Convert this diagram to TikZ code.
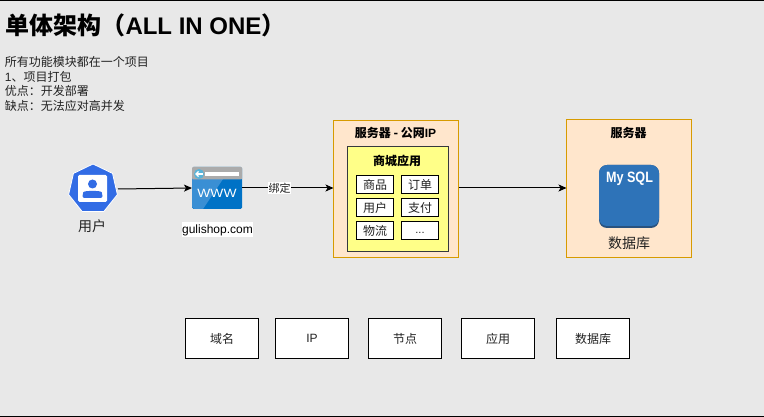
\documentclass[tikz,border=0pt]{standalone}
\usepackage{fontspec}
\setmainfont{Liberation Sans}
\newfontfamily\cjk{Noto Sans CJK SC}
\usetikzlibrary{shapes.geometric,arrows.meta}
\definecolor{bgc}{HTML}{E8E8E8}
\definecolor{orangefill}{HTML}{FFE6CC}
\definecolor{orangeline}{HTML}{D79B00}
\definecolor{yellowfill}{HTML}{FFFF88}
\definecolor{innerline}{HTML}{36393D}
\definecolor{userblue}{HTML}{326CE5}
\definecolor{wwwblue}{HTML}{0072C6}
\definecolor{wwwlight}{HTML}{3A8FD4}
\definecolor{wwwgrey}{HTML}{ABABAB}
\definecolor{wwwcyan}{HTML}{59B4D9}
\definecolor{sqlblue}{HTML}{2E73B8}
\definecolor{sqldark}{HTML}{28527F}
\definecolor{txt}{HTML}{222222}
\tikzset{
  x=1pt,y=-1pt,
  every node/.style={inner sep=0pt,outer sep=0pt,text=txt},
  server/.style={draw=orangeline,fill=orangefill,line width=1pt,minimum width=125pt,minimum height=137.5pt},
  appbox/.style={draw=innerline,fill=yellowfill,line width=1pt,minimum width=101pt,minimum height=105pt},
  modbox/.style={draw=black,fill=white,line width=1pt,minimum width=37pt,minimum height=18pt,font=\cjk\fontsize{12}{14}\selectfont},
  legendbox/.style={draw=black,fill=white,line width=1pt,minimum width=73.5pt,minimum height=40pt,font=\cjk\fontsize{12}{14}\selectfont},
  conn/.style={draw=black,line width=1pt,-{Stealth[length=8pt,width=7pt,inset=2pt]}},
  heading/.style={font=\cjk\bfseries\fontsize{12}{14}\selectfont,text=black},
}
\begin{document}
\begin{tikzpicture}
\useasboundingbox (0,0) rectangle (764,417);
\fill[bgc] (0,0) rectangle (764,417);
\draw[black,line width=1pt] (0,0.5) -- (764,0.5);
\draw[black,line width=1pt] (0,416.5) -- (764,416.5);

\node[anchor=west,text=black] (title) at (5.5,25) {\cjk\bfseries\fontsize{24}{28}\selectfont 单体架构（{\rmfamily\bfseries ALL IN ONE}）};
\node[anchor=north west,align=left,font=\cjk\fontsize{12}{14.5}\selectfont] (desc) at (5,56.5) {所有功能模块都在一个项目\\{\rmfamily 1}、项目打包\\优点：开发部署\\缺点：无法应对高并发};

% user
\node[regular polygon,regular polygon sides=7,fill=userblue,draw=white,line width=0.8pt,minimum size=50pt] (user) at (93,189) {};
\fill[white,rounded corners=1.5pt] (78,175) rectangle (107,202);
\fill[userblue] (92.5,184) circle (4.5);
\fill[userblue,rounded corners=2pt] (82.5,198) -- (82.5,194) .. controls (84,190.5) and (101,190.5) .. (102.5,194) -- (102.5,198) -- cycle;
\node[font=\cjk\fontsize{14}{16}\selectfont] (userlabel) at (92,226.5) {用户};

% www
\node[fill=wwwblue,rounded corners=1.5pt,minimum width=50pt,minimum height=42pt] (www) at (217,188) {};
\fill[wwwlight] (192,179) -- (223,179) -- (203,209) -- (194,209) -- (192,207) -- cycle;
\fill[wwwgrey,rounded corners=1pt] (192,179.5) -- (192,167) -- (242,167) -- (242,179.5) -- cycle;
\fill[wwwcyan] (199,174) circle (5);
\draw[white,line width=1.2pt] (196,174) -- (202.5,174);
\draw[white,line width=1.2pt] (198.5,171.5) -- (196,174) -- (198.5,176.5);
\fill[white] (205,172) rectangle (239,176);
\node[font=\fontsize{12}{14}\selectfont,text=white,xscale=1.15] (wwwtext) at (217,193.5) {WWW};
\node[fill=white,font=\fontsize{12}{14}\selectfont,text=black,minimum width=71pt,minimum height=15pt] (domain) at (217.5,230) {gulishop.com};

% server
\node[server] (srv) at (396,189) {};
\node[heading] (srvtitle) at (395.5,133) {服务器 - 公网{\rmfamily\bfseries IP}};
\node[appbox] (app) at (397.5,199.5) {};
\node[font=\cjk\bfseries\fontsize{12}{14}\selectfont,text=black] (apptitle) at (397,161) {商城应用};
\node[modbox] (m1) at (375,185) {商品};
\node[modbox] (m2) at (420,185) {订单};
\node[modbox] (m3) at (375,208) {用户};
\node[modbox] (m4) at (420,208) {支付};
\node[modbox] (m5) at (375,231) {物流};
\node[modbox,font=\fontsize{11}{14}\selectfont,text height=9pt,text depth=3pt] (m6) at (420,231) {...};

% db server
\node[server] (db) at (629,188.5) {};
\node[heading] (dbtitle) at (628.5,133) {服务器};
\node[fill=sqldark,rounded corners=8pt,minimum width=60pt,minimum height=63pt] (mysql) at (629,196.5) {};
\fill[sqlblue,rounded corners=8pt] (599,165) rectangle (659,226);
\node[font=\bfseries\fontsize{15}{17}\selectfont,text=white,xscale=0.84] (mysqltext) at (629.5,178.5) {My SQL};
\node[font=\cjk\fontsize{14}{16}\selectfont] (dblabel) at (629,243) {数据库};

% connectors
\draw[conn] (user.center -| 118,188) -- (www.west);
\draw[conn] (www.east) -- node[pos=0.41,fill=white,font=\cjk\fontsize{11}{13}\selectfont,inner sep=0.5pt] (bind) {绑定} (srv.west |- www.east);
\draw[conn] (srv.east |- www.east) -- (db.west |- www.east);

% legend
\node[legendbox] (l1) at (222,338.5) {域名};
\node[legendbox,font=\fontsize{12}{14}\selectfont] (l2) at (312,338.5) {IP};
\node[legendbox] (l3) at (405,338.5) {节点};
\node[legendbox] (l4) at (498,338.5) {应用};
\node[legendbox] (l5) at (593,338.5) {数据库};
\end{tikzpicture}
\end{document}
